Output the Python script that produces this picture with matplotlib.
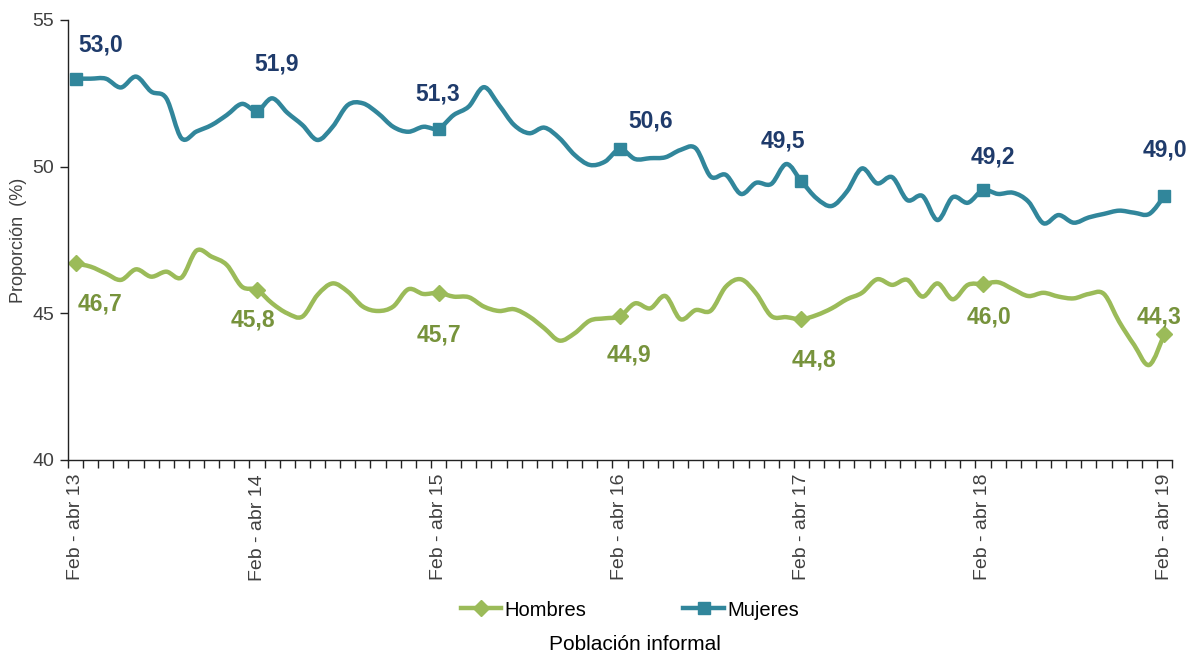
import matplotlib.pyplot as plt
from matplotlib.path import Path
from matplotlib.patches import PathPatch
from matplotlib.lines import Line2D

plt.rcParams['font.family'] = ['Liberation Sans', 'DejaVu Sans']

# monthly rolling quarters, Feb-abr 13 .. Feb-abr 19
mujeres = [53.0, 53.0, 53.0, 52.7, 53.07, 52.56, 52.33, 50.97, 51.2, 51.42, 51.76, 52.14,
           51.9, 52.33, 51.84, 51.42, 50.91, 51.36, 52.1, 52.16, 51.82, 51.36, 51.19, 51.36,
           51.3, 51.76, 52.05, 52.71, 52.1, 51.42, 51.14, 51.33, 50.97, 50.4, 50.06, 50.17,
           50.6, 50.26, 50.29, 50.32, 50.57, 50.63, 49.66, 49.72, 49.07, 49.45, 49.41, 50.09,
           49.5, 48.92, 48.66, 49.15, 49.94, 49.43, 49.64, 48.86, 49.0, 48.18, 48.96, 48.77,
           49.2, 49.07, 49.11, 48.81, 48.07, 48.35, 48.09, 48.27, 48.39, 48.5, 48.43, 48.39,
           49.0]
hombres = [46.7, 46.59, 46.36, 46.14, 46.5, 46.25, 46.42, 46.22, 47.14, 46.93, 46.65, 45.91,
           45.8, 45.34, 45.0, 44.89, 45.63, 46.02, 45.74, 45.23, 45.08, 45.23, 45.82, 45.66,
           45.7, 45.57, 45.55, 45.23, 45.08, 45.14, 44.89, 44.49, 44.07, 44.32, 44.75, 44.83,
           44.9, 45.34, 45.17, 45.59, 44.8, 45.11, 45.09, 45.91, 46.16, 45.68, 44.91, 44.87,
           44.8, 44.94, 45.17, 45.48, 45.7, 46.16, 45.97, 46.14, 45.57, 46.02, 45.48, 45.97,
           46.0, 46.06, 45.82, 45.59, 45.7, 45.57, 45.51, 45.66, 45.66, 44.72, 43.92, 43.24,
           44.3]
year_labels = ["Feb - abr 13", "Feb - abr 14", "Feb - abr 15", "Feb - abr 16",
               "Feb - abr 17", "Feb - abr 18", "Feb - abr 19"]
year_idx = [0, 12, 24, 36, 48, 60, 72]

# label offsets in pixels (dx, dy)
muj_off = [(25, 34), (20, 47), (-1, 35), (31, 28), (-19, 40), (10, 33), (0, 46)]
hom_off = [(24, -41), (-4, -30), (0, -42), (9, -39), (13, -41), (6, -33), (-5, 17)]

c_muj = '#31869b'
c_muj_lab = '#1f3b6b'
c_hom = '#9bbb59'
c_hom_lab = '#77933c'


def smooth_path(ys):
    # bezier smoothing like spreadsheet "smoothed line"
    pts = list(enumerate(ys))
    n = len(pts)
    verts = [pts[0]]
    codes = [Path.MOVETO]
    for i in range(n - 1):
        p0 = pts[max(i - 1, 0)]
        p1 = pts[i]
        p2 = pts[i + 1]
        p3 = pts[min(i + 2, n - 1)]
        c1 = (p1[0] + (p2[0] - p0[0]) / 6, p1[1] + (p2[1] - p0[1]) / 6)
        c2 = (p2[0] - (p3[0] - p1[0]) / 6, p2[1] - (p3[1] - p1[1]) / 6)
        verts += [c1, c2, p2]
        codes += [Path.CURVE4] * 3
    return Path(verts, codes)


fig = plt.figure(figsize=(11.9, 6.56), dpi=100)
ax = fig.add_axes([68 / 1190, 196 / 656, 1104 / 1190, 440 / 656])

ax.add_patch(PathPatch(smooth_path(mujeres), fill=False, edgecolor=c_muj, lw=3.2, capstyle='round', joinstyle='round'))
ax.add_patch(PathPatch(smooth_path(hombres), fill=False, edgecolor=c_hom, lw=3.2, capstyle='round', joinstyle='round'))

ax.plot(year_idx, [mujeres[i] for i in year_idx], ls='none', marker='s', ms=8, color=c_muj)
ax.plot(year_idx, [hombres[i] for i in year_idx], ls='none', marker='D', ms=8.5, color=c_hom)

for k, i in enumerate(year_idx):
    ax.annotate(f"{mujeres[i]:.1f}".replace(".", ","), (i, mujeres[i]), xytext=muj_off[k],
                textcoords='offset pixels', ha='center', va='center', fontsize=16.5,
                fontweight='bold', color=c_muj_lab)
    ax.annotate(f"{hombres[i]:.1f}".replace(".", ","), (i, hombres[i]), xytext=hom_off[k],
                textcoords='offset pixels', ha='center', va='center', fontsize=16.5,
                fontweight='bold', color=c_hom_lab)

ax.set_xlim(-0.5, len(mujeres) - 0.5)
ax.set_ylim(40, 55)
ax.set_yticks([40, 45, 50, 55])
ax.set_xticks(year_idx)
ax.set_xticklabels(year_labels, rotation=90)
ax.set_xticks([i - 0.5 for i in range(len(mujeres) + 1)], minor=True)
ax.tick_params(axis='x', which='major', length=0, pad=10, labelsize=14, labelcolor='#404040')
ax.tick_params(axis='x', which='minor', length=6, width=1, direction='out', color='#222222')
ax.tick_params(axis='y', length=6, width=1, pad=4, labelsize=14, labelcolor='#404040', color='#222222')
for s in ['top', 'right']:
    ax.spines[s].set_visible(False)
for s in ['left', 'bottom']:
    ax.spines[s].set_color('#222222')
    ax.spines[s].set_linewidth(1)

ax.set_ylabel("Proporción  (%)", fontsize=13, color='#404040', labelpad=4)

handles = [Line2D([], [], color=c_hom, lw=3.2, marker='D', ms=8),
           Line2D([], [], color=c_muj, lw=3.2, marker='s', ms=8)]
fig.legend(handles, ["Hombres", "Mujeres"], loc='center', bbox_to_anchor=(630 / 1190, 46 / 656),
           ncol=2, frameon=False, fontsize=14.5, handlelength=2.0, handletextpad=0.2,
           columnspacing=4.8)
fig.text(635 / 1190, 11 / 656, "Población informal", ha='center', va='center', fontsize=15)

fig.savefig("out.png", dpi=100)
